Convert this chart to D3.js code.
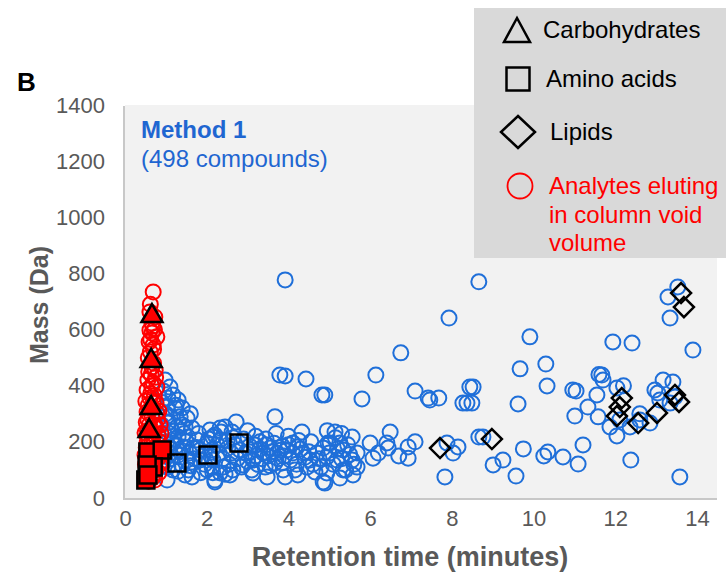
<!DOCTYPE html>
<html>
<head>
  <script src="https://cdn.jsdelivr.net/npm/d3@7"></script>
  <style>
    body, html { margin: 0; padding: 0; background: white; overflow: hidden; }
    text { font-family: 'Liberation Sans', Arial, sans-serif; }
  </style>
</head>
<body>
  <svg id="chart" width="726" height="576"></svg>
  <script>
    // ---- data ----
    const xTicks = [0, 2, 4, 6, 8, 10, 12, 14];
    const yTicks = [0, 200, 400, 600, 800, 1000, 1200, 1400];

    // all compounds (retention time in minutes, mass in Da)
    const compounds = [
      [0.98,420],[1.10,395],[1.17,367],[1.05,356],[1.30,349],[1.03,324],[1.22,321],[1.40,321],
      [1.10,289],[1.35,289],[1.52,285],[1.05,267],[1.27,253],[1.47,253],[1.64,249],[1.05,232],
      [1.30,217],[1.54,217],[1.76,207],[1.17,196],[1.42,182],[1.66,178],[1.10,160],[1.30,153],
      [1.52,135],[1.84,135],[0.93,125],[1.17,100],[1.47,82],[1.64,75],[1.03,64],[2.15,217],
      [2.33,249],[2.13,110],[2.33,89],[2.20,64],[2.08,242],[2.20,224],[2.45,253],[2.33,207],
      [2.62,235],[2.01,196],[2.13,171],[1.84,171],[2.52,178],[2.81,171],[3.06,164],[3.18,189],
      [3.38,160],[3.55,178],[3.72,160],[3.96,171],[4.11,196],[4.21,182],[4.36,160],[4.53,135],
      [4.70,160],[4.85,178],[4.97,196],[2.15,135],[2.40,110],[2.64,100],[2.89,118],[3.13,135],
      [3.43,110],[3.67,125],[3.87,100],[4.16,100],[4.45,110],[4.65,93],[2.01,100],[2.20,57],
      [2.57,82],[3.13,89],[3.48,75],[3.92,75],[4.23,82],[4.85,57],[3.67,289],[2.72,271],
      [4.33,235],[4.82,367],[4.43,424],[3.79,438],[3.92,435],[3.92,777],[6.14,438],[4.89,367],
      [5.80,353],[7.10,381],[7.42,356],[7.46,349],[7.68,356],[8.44,395],[8.37,338],[8.27,338],
      [5.14,235],[5.56,217],[5.26,196],[5.02,196],[5.34,171],[5.68,160],[4.94,146],[5.19,135],
      [5.56,135],[5.68,110],[5.34,100],[4.94,89],[5.58,82],[4.89,53],[5.26,71],[6.00,196],
      [6.49,235],[6.41,196],[6.44,178],[6.07,142],[6.93,182],[6.93,142],[7.88,196],[8.15,182],
      [8.03,160],[7.83,75],[8.66,217],[7.93,641],[8.66,770],[6.75,517],[9.91,574],[9.67,460],
      [10.30,477],[10.33,399],[10.96,385],[11.04,381],[9.62,335],[8.52,395],[8.49,338],[11.94,556],
      [12.41,552],[11.67,438],[11.70,420],[11.55,367],[12.04,392],[11.33,324],[11.58,289],[11.01,292],
      [11.87,253],[12.04,221],[12.11,278],[12.36,253],[12.60,278],[12.85,267],[8.76,217],[9.01,118],
      [9.25,135],[9.57,78],[10.35,164],[10.72,146],[11.09,121],[11.21,189],[12.38,135],[13.29,716],
      [13.53,752],[13.34,641],[13.90,527],[13.17,420],[13.41,413],[12.97,385],[13.04,374],[13.46,360],
      [13.58,75],[13.09,349],[13.34,338],[9.75,175],[10.25,150],[11.6,440],[12.2,400],[12.6,300],
      [0.95,380],[1.00,300],[1.08,270],[1.15,240],[1.20,210],[1.25,185],[1.12,140],[1.35,165],
      [1.38,120],[1.45,230],[1.50,200],[1.58,160],[1.60,115],[1.70,140],[1.75,180],[1.80,230],
      [1.90,150],[1.95,120],[2.05,210],[2.10,150],[2.25,190],[2.30,160],[2.40,140],[2.50,205],
      [2.55,120],[2.60,160],[2.70,190],[2.75,140],[2.85,110],[2.90,210],[2.95,160],[3.00,130],
      [3.05,185],[3.10,100],[3.20,150],[3.25,120],[3.30,175],[3.35,140],[3.45,190],[3.50,150],
      [3.55,115],[3.60,165],[3.65,195],[3.75,140],[3.80,170],[3.85,125],[3.90,150],[4.00,190],
      [4.05,135],[4.10,160],[4.20,120],[4.30,175],[4.40,145],[4.50,165],[4.60,120],[4.75,140],
      [4.80,110],[5.00,160],[5.10,120],[5.20,175],[5.30,140],[5.45,190],[5.50,155],[5.60,120],
      [5.40,100],[5.15,215],[4.95,240],[5.30,230],[1.02,200],[1.10,180],[0.98,150],[1.05,110],
      [1.30,95],[1.55,100],[1.85,90],[2.15,90],[2.45,85],[2.35,235],[2.65,215],[3.00,240],
      [3.20,220],[3.45,210],[3.70,230],[4.00,220],[4.25,205],[4.55,200],[1.40,260],[1.60,300],
      [1.25,330],[0.92,340],[0.90,260],[6.20,160],[6.70,150],[7.10,200],[3.30,200],[3.85,185]
    ];

    // analytes eluting in the column void volume
    const voidAnalytes = [
      [0.69,734],[0.61,663],[0.73,645],[0.66,623],[0.61,598],[0.66,588],[0.78,574],[0.59,556],
      [0.69,545],[0.66,467],[0.56,420],[0.69,410],[0.54,385],[0.78,395],[0.61,356],[0.69,338],
      [0.54,306],[0.78,303],[0.66,289],[0.56,278],[0.73,260],[0.61,242],[0.49,232],[0.81,224],
      [0.66,207],[0.54,196],[0.76,182],[0.61,171],[0.49,153],[0.81,142],[0.66,128],[0.54,118],
      [0.76,100],[0.61,89],[0.49,71],[0.73,64],[0.62,520],[0.70,480],[0.58,450],[0.75,430],
      [0.63,372],[0.72,365],[0.57,330],[0.67,320],[0.80,280],[0.74,250],[0.58,212],[0.70,190],
      [0.64,160],[0.78,148],[0.55,138],[0.68,108],[0.60,95],[0.72,80],[0.66,70],[0.52,180],
      [0.84,200],[0.86,260],[0.83,310],[0.62,690],[0.68,612],[0.63,565],[0.70,530],[0.60,262],
      [0.52,270],[0.88,230],[0.86,170],[0.50,120],[0.85,120],[0.57,500],[0.74,455],[0.51,345],
      [0.76,340],[0.64,440],[0.55,240],[0.71,225],[0.83,90],[0.58,60],[0.65,400],[0.72,600]
    ];

    const carbohydrates = [[0.66,659],[0.64,499],[0.64,331],[0.59,249]];
    const aminoAcids = [[0.56,164],[0.91,171],[0.69,110],[0.54,118],[0.51,64],[0.56,82],
      [1.27,125],[2.03,153],[2.79,196]];
    const lipids = [[13.61,730],[13.68,680],[8.98,210],[7.71,178],[12.16,356],[12.11,324],
      [12.04,292],[12.56,267],[13.02,303],[13.46,367],[13.56,342]];

    const legendItems = [
      { shape: "triangle", label: ["Carbohydrates"] },
      { shape: "square", label: ["Amino acids"] },
      { shape: "diamond", label: ["Lipids"] },
      { shape: "circle", label: ["Analytes eluting", "in column void", "volume"] }
    ];

    const blue = "#1f6fd9";
    const red = "#ff0000";
    const grey = "#595959";

    const svg = d3.select("#chart");

    const x = d3.scaleLinear().domain([0, 14]).range([125, 697]);
    const y = d3.scaleLinear().domain([0, 1400]).range([498, 105]);

    // plot area
    svg.append("rect")
      .attr("x", 125).attr("y", 105)
      .attr("width", 717 - 125).attr("height", 498 - 105)
      .attr("fill", "#f2f2f2");
    svg.append("path")
      .attr("d", "M124,106 L124,499 L717,499")
      .attr("stroke", "#c8c8c8").attr("stroke-width", 2).attr("fill", "none");

    // axes (labels only, no lines)
    const yAxis = svg.append("g")
      .attr("transform", "translate(105,0)")
      .call(d3.axisLeft(y).tickValues(yTicks).tickFormat(d3.format("d")).tickSize(0).tickPadding(0));
    const xAxis = svg.append("g")
      .attr("transform", "translate(0,510)")
      .call(d3.axisBottom(x).tickValues(xTicks).tickFormat(d3.format("d")).tickSize(0).tickPadding(0));
    [xAxis, yAxis].forEach(g => {
      g.select(".domain").remove();
      g.selectAll("text")
        .attr("fill", grey)
        .style("font-size", "22px")
        .style("font-family", "'Liberation Sans', Arial, sans-serif");
    });

    // symbols
    function trianglePath(cx, cy, w, h) {
      return `M${cx},${cy - h / 2} L${cx + w / 2},${cy + h / 2} L${cx - w / 2},${cy + h / 2} Z`;
    }
    function squarePath(cx, cy, s) {
      return `M${cx - s / 2},${cy - s / 2} h${s} v${s} h${-s} Z`;
    }
    function diamondPath(cx, cy, w, h) {
      return `M${cx},${cy - h / 2} L${cx + w / 2},${cy} L${cx},${cy + h / 2} L${cx - w / 2},${cy} Z`;
    }

    const marks = svg.append("g");

    marks.selectAll(".cmp")
      .data(compounds)
      .join("circle")
      .attr("class", "cmp")
      .attr("cx", d => x(d[0])).attr("cy", d => y(d[1]))
      .attr("r", 7.5)
      .attr("fill", "none").attr("stroke", blue).attr("stroke-width", 2);

    marks.selectAll(".void")
      .data(voidAnalytes)
      .join("circle")
      .attr("class", "void")
      .attr("cx", d => x(d[0])).attr("cy", d => y(d[1]))
      .attr("r", 7.5)
      .attr("fill", "none").attr("stroke", red).attr("stroke-width", 2);

    marks.selectAll(".lipid")
      .data(lipids)
      .join("path")
      .attr("class", "lipid")
      .attr("d", d => diamondPath(x(d[0]), y(d[1]), 20, 20))
      .attr("fill", "none").attr("stroke", "black").attr("stroke-width", 2.5);

    // markers inside the void volume are filled red
    marks.selectAll(".amino")
      .data(aminoAcids)
      .join("path")
      .attr("class", "amino")
      .attr("d", d => squarePath(x(d[0]), y(d[1]), 17))
      .attr("fill", d => d[0] < 1 ? red : "none")
      .attr("stroke", "black").attr("stroke-width", 2.5);

    marks.selectAll(".carb")
      .data(carbohydrates)
      .join("path")
      .attr("class", "carb")
      .attr("d", d => trianglePath(x(d[0]), y(d[1]), 21, 18))
      .attr("fill", red)
      .attr("stroke", "black").attr("stroke-width", 2.5);

    // in-plot annotation
    svg.append("text")
      .attr("x", 141).attr("y", 138)
      .attr("fill", "#1f66d1")
      .style("font-size", "24px").style("font-weight", "bold")
      .text("Method 1");
    svg.append("text")
      .attr("x", 141).attr("y", 167)
      .attr("fill", "#1f66d1")
      .style("font-size", "24px")
      .text("(498 compounds)");

    // axis titles
    svg.append("text")
      .attr("transform", "translate(48,305) rotate(-90)")
      .attr("text-anchor", "middle")
      .attr("fill", grey)
      .style("font-size", "25px").style("font-weight", "bold")
      .text("Mass (Da)");
    svg.append("text")
      .attr("x", 410).attr("y", 566)
      .attr("text-anchor", "middle")
      .attr("fill", grey)
      .style("font-size", "27px").style("font-weight", "bold")
      .text("Retention time (minutes)");

    // panel letter
    svg.append("text")
      .attr("x", 17).attr("y", 91)
      .attr("fill", "black")
      .style("font-size", "26px").style("font-weight", "bold")
      .text("B");

    // legend box
    const legend = svg.append("g");
    legend.append("rect")
      .attr("x", 474).attr("y", 8)
      .attr("width", 726 - 474).attr("height", 258 - 8)
      .attr("fill", "#d9d9d9");

    const legendY = [30, 79, 132, 186];
    const legendTextX = [543, 546, 550, 549];
    legendItems.forEach((item, i) => {
      const cy = legendY[i];
      const col = item.shape === "circle" ? red : "black";
      let m;
      if (item.shape === "triangle") {
        m = legend.append("path").attr("d", trianglePath(517, cy, 26, 24));
      } else if (item.shape === "square") {
        m = legend.append("path").attr("d", squarePath(518, cy, 23));
      } else if (item.shape === "diamond") {
        m = legend.append("path").attr("d", diamondPath(518, cy, 34, 32));
      } else {
        m = legend.append("circle").attr("cx", 520).attr("cy", cy).attr("r", 12.5);
      }
      m.attr("fill", "none").attr("stroke", col)
        .attr("stroke-width", item.shape === "circle" ? 1.8 : 2.5);

      item.label.forEach((line, j) => {
        legend.append("text")
          .attr("x", legendTextX[i]).attr("y", cy + 8 + j * 28.5)
          .attr("fill", col)
          .style("font-size", "24px")
          .text(line);
      });
    });
  </script>
</body>
</html>
